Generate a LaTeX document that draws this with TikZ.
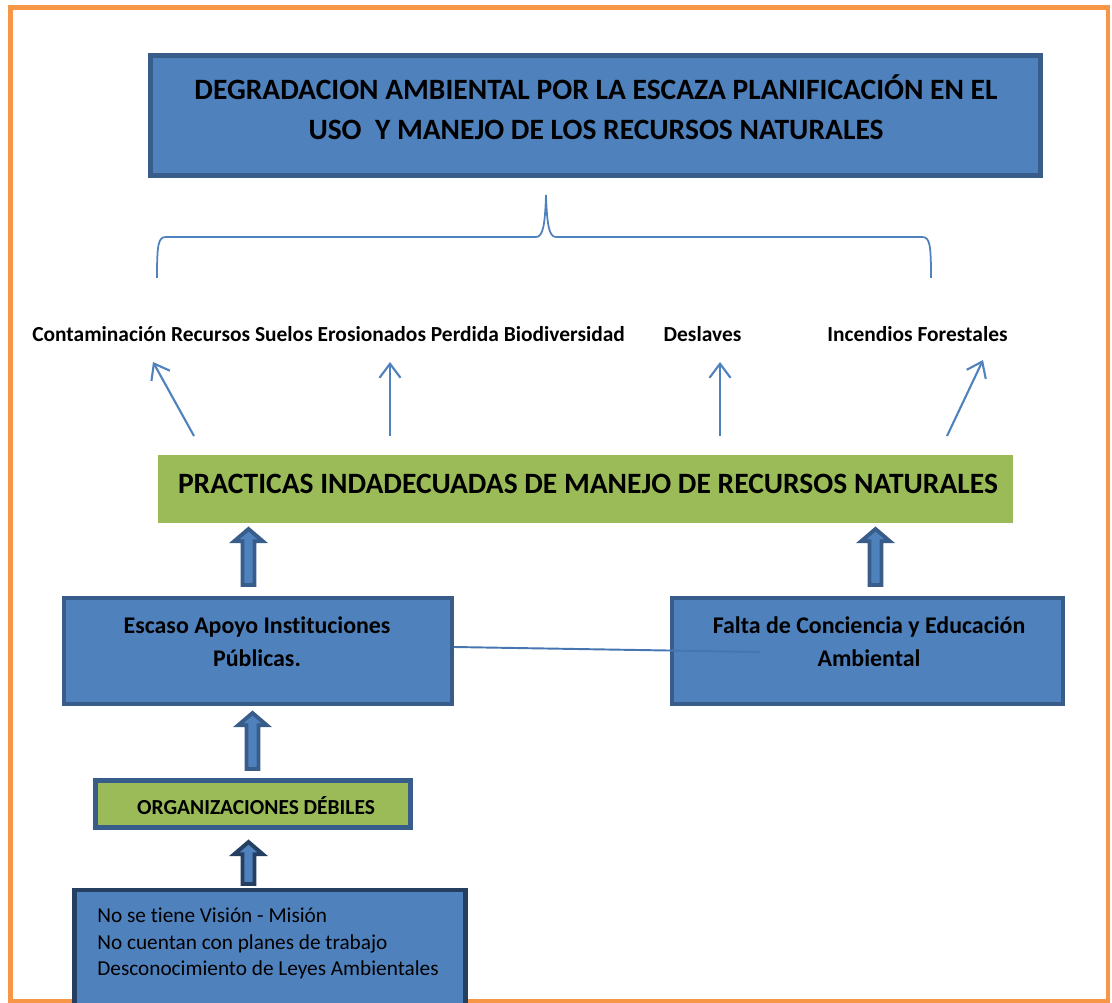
\documentclass[tikz,border=0pt]{standalone}
\usepackage{fontspec}
\setmainfont{Carlito}[Ligatures=NoCommon]
\usetikzlibrary{arrows.meta,calc}
\definecolor{bfill}{HTML}{4F81BD}
\definecolor{bdark}{HTML}{385D8A}
\definecolor{bnavy}{HTML}{243F60}
\definecolor{gfill}{HTML}{9BBB59}
\definecolor{orng}{HTML}{F79646}
\definecolor{bline}{HTML}{4675B0}
\newcommand\blkarrow[3]{%
  \path[draw=#1, line width=2.2pt, fill=bfill, line join=miter] let \p1=(#2), \p2=(#3) in
  (\x1-3.4pt,\y1) -- (\x1-3.4pt,\y2-7pt) -- (\x1-8.2pt,\y2-7pt) -- (\x1,\y2) --
  (\x1+8.2pt,\y2-7pt) -- (\x1+3.4pt,\y2-7pt) -- (\x1+3.4pt,\y1) -- cycle;}
\tikzset{
  bluebox/.style={draw=bdark, fill=bfill, line width=2.3pt, inner sep=0pt},
  txt/.style={inner sep=0pt, align=center, font=\bfseries},
  thinarrow/.style={draw=bfill, line width=1.2pt, -{Straight Barb[length=8pt,width=12pt]}},
}
\begin{document}
\begin{tikzpicture}[x=0.02cm,y=-0.02cm]
\useasboundingbox (0,0) rectangle (1112,1003);
% orange frame
\draw[orng, line width=2.8pt] (10.5,7.5) rectangle (1108,1001);
% title box
\node[bluebox, line width=2.8pt, minimum width=17.8cm, minimum height=2.4cm] (title) at (595.5,115.5) {};
\node[txt, font=\fontsize{16.8}{23}\selectfont\bfseries] (titletxt) at (596,107)
  {DEGRADACION AMBIENTAL POR LA ESCAZA PLANIFICACIÓN EN EL\\USO\ \ Y MANEJO DE LOS RECURSOS NATURALES};
% brace
\draw[bfill, line width=1pt] (157,278) .. controls (157,245) and (158,237) .. (166,237) -- (536,237)
  .. controls (543,237) and (545,225) .. (546,195) .. controls (547,225) and (549,237) .. (556,237)
  -- (922,237) .. controls (930,237) and (931,245) .. (931,278);
% effect labels
\node[txt, font=\fontsize{12.2}{14}\selectfont\bfseries] (efa) at (328.5,334)
  {Contaminación Recursos Suelos Erosionados Perdida Biodiversidad};
\node[txt, font=\fontsize{12.2}{14}\selectfont\bfseries] (efb) at (702.5,334) {Deslaves};
\node[txt, font=\fontsize{12.2}{14}\selectfont\bfseries] (efc) at (917.5,334) {Incendios Forestales};
% green bar
\node[fill=gfill, inner sep=0pt, minimum width=17.1cm, minimum height=1.36cm] (prac) at (585.5,489) {};
\node[txt, font=\fontsize{16.8}{19}\selectfont\bfseries] (practxt) at (588,484)
  {PRACTICAS INDADECUADAS DE MANEJO DE RECURSOS NATURALES};
% thin arrows
\coordinate (s1) at (194,436); \coordinate (t1) at (153,362);
\coordinate (s2) at (390,436); \coordinate (t2) at (390,362);
\coordinate (s3) at (720,436); \coordinate (t3) at (720,362);
\coordinate (s4) at (947,436); \coordinate (t4) at (983,360);
\draw[thinarrow] (s1) -- (t1);
\draw[thinarrow] (s2) -- (t2);
\draw[thinarrow] (s3) -- (t3);
\draw[thinarrow] (s4) -- (t4);
% middle boxes
\node[bluebox, minimum width=7.76cm, minimum height=2.12cm] (escaso) at (258,651) {};
\node[bluebox, minimum width=7.82cm, minimum height=2.12cm] (falta) at (867.5,651) {};
\node[txt, font=\fontsize{13.6}{18.7}\selectfont\bfseries] (escasotxt) at (257,642)
  {Escaso Apoyo Instituciones\\Públicas.};
\node[txt, font=\fontsize{13.6}{18.7}\selectfont\bfseries] (faltatxt) at (869,642)
  {Falta de Conciencia y Educación\\Ambiental};
\coordinate (linkend) at (760,652);
\draw[bline, line width=1.1pt] (escaso.east) ++(0,-4) -- (linkend);
% organizaciones
\node[draw=bdark, fill=gfill, line width=2.6pt, inner sep=0pt, minimum width=6.3cm, minimum height=0.94cm] (org) at (253,804) {};
\node[txt, font=\fontsize{12.2}{14}\selectfont\bfseries] (orgtxt) at (256,806) {ORGANIZACIONES DÉBILES};
% bottom box
\node[draw=bnavy, fill=bfill, line width=2.8pt, inner sep=0pt, minimum width=7.82cm, minimum height=2.4cm] (causes) at (270,950) {};
\node[inner sep=0pt, align=left, anchor=west, font=\fontsize{12.1}{15}\selectfont] (causestxt) at (97,943.5)
  {No se tiene Visión - Misión\\No cuentan con planes de trabajo\\Desconocimiento de Leyes Ambientales};
% block arrows
\coordinate (b1) at (248.5,585); \coordinate (p1) at (248.5,529);
\coordinate (b2) at (875.5,585); \coordinate (p2) at (875.5,529);
\coordinate (b3) at (252.5,769); \coordinate (p3) at (252.5,713);
\coordinate (b4) at (248.5,884); \coordinate (p4) at (248.5,842);
\blkarrow{bdark}{b1}{p1}
\blkarrow{bdark}{b2}{p2}
\blkarrow{bdark}{b3}{p3}
\blkarrow{bnavy}{b4}{p4}
\end{tikzpicture}
\end{document}
